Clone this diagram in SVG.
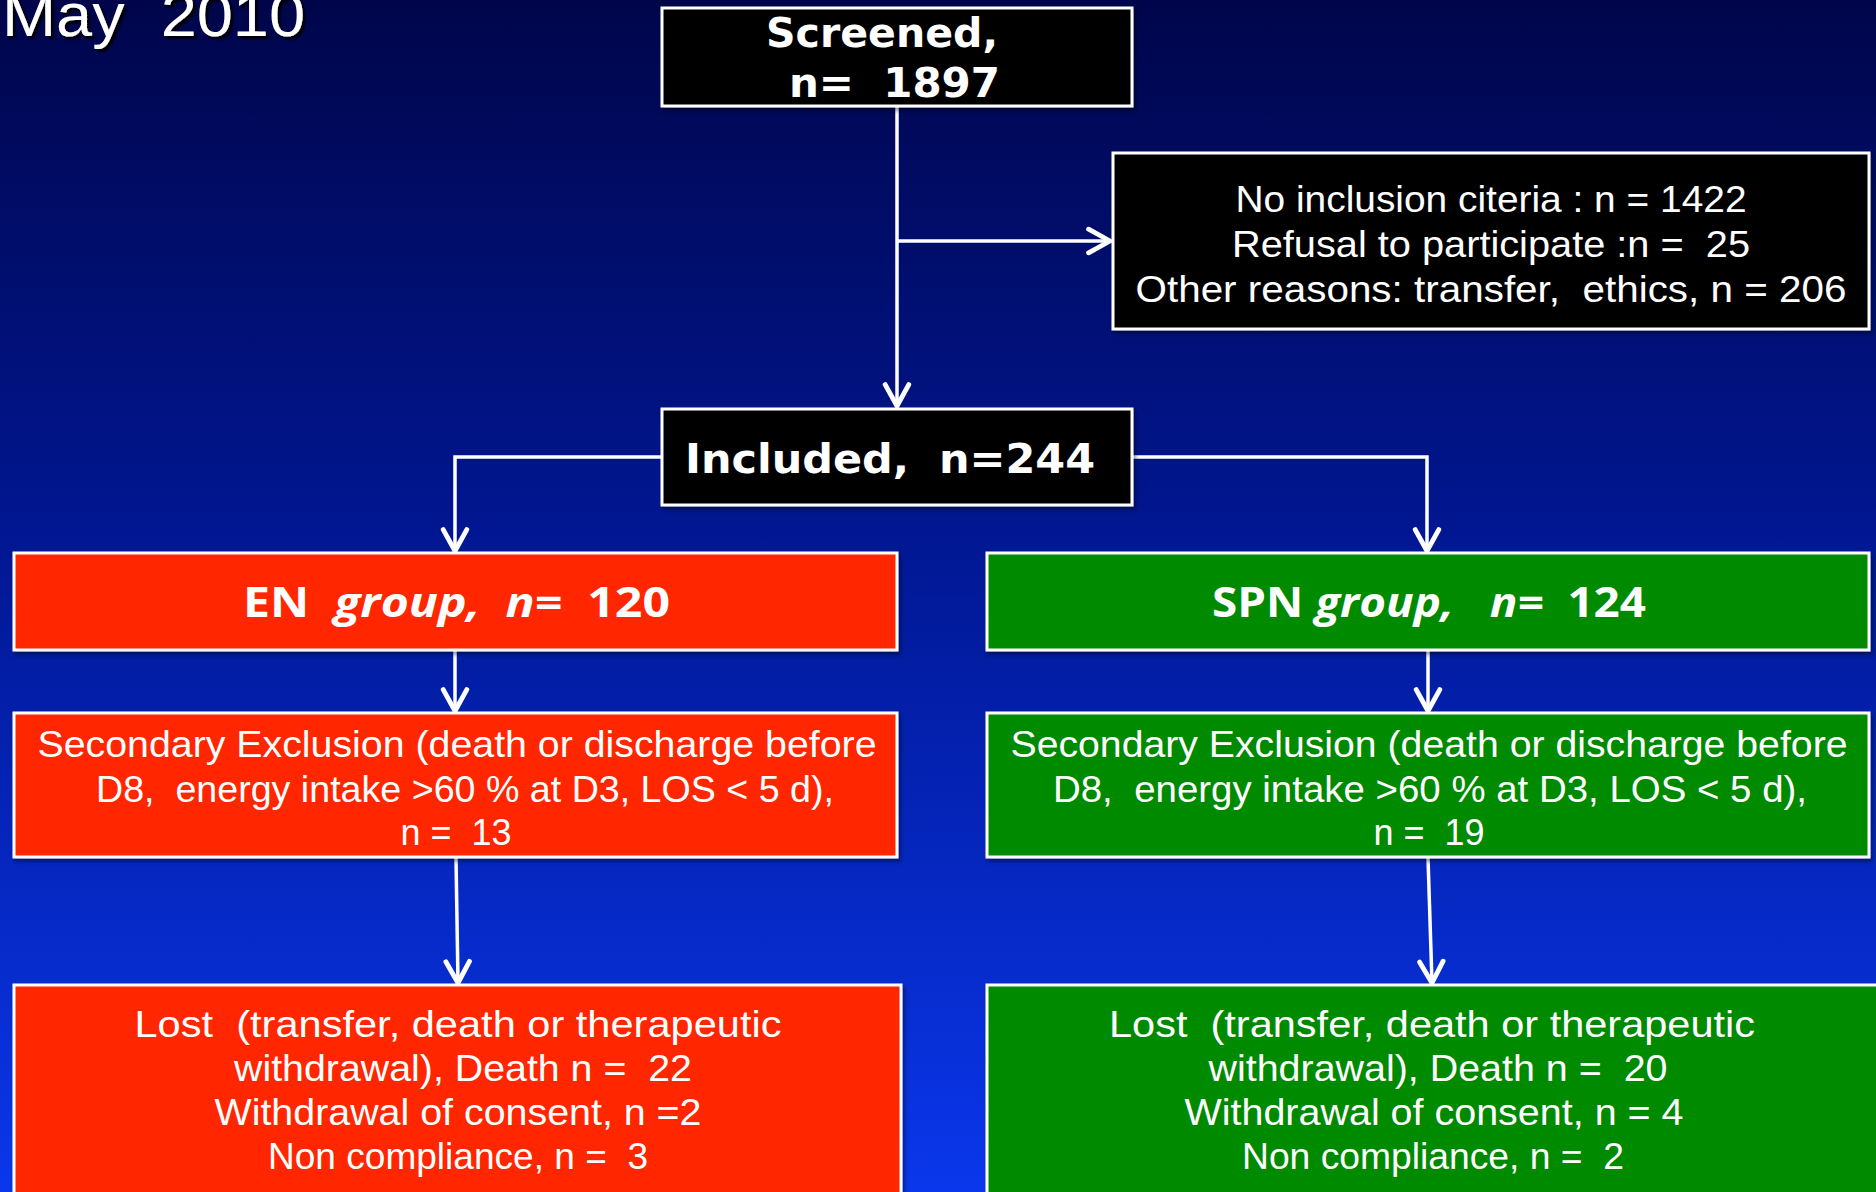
<svg xmlns="http://www.w3.org/2000/svg" width="1876" height="1192" viewBox="0 0 1876 1192" xml:space="preserve">
  <defs>
    <linearGradient id="bg" x1="0" y1="0" x2="0" y2="1">
      <stop offset="0" stop-color="#00054a"/>
      <stop offset="0.45" stop-color="#011792"/>
      <stop offset="1" stop-color="#0a37ec"/>
    </linearGradient>
    <filter id="sh" x="-5%" y="-10%" width="110%" height="130%">
      <feDropShadow dx="2" dy="3" stdDeviation="2" flood-color="#000" flood-opacity="0.45"/>
    </filter>
    <filter id="tsh" x="-5%" y="-30%" width="110%" height="160%">
      <feDropShadow dx="3" dy="3" stdDeviation="1" flood-color="#000" flood-opacity="0.9"/>
    </filter>
    <marker id="ah" markerUnits="userSpaceOnUse" markerWidth="30" markerHeight="30" viewBox="-24 -14 28 28" refX="0" refY="0" orient="auto">
      <path d="M-20,-11 L0,0 L-20,11" fill="none" stroke="#fff" stroke-width="4.5" stroke-linecap="round" stroke-linejoin="round"/>
    </marker>
  </defs>
  <style>
    text { white-space: pre; }
    .box { stroke: #fff; stroke-width: 3; filter: url(#sh); }
    .black { fill: #000; }
    .red { fill: #ff2800; }
    .green { fill: #008a00; }
    .bold { font-family: "DejaVu Sans", Verdana, sans-serif; font-weight: bold; font-size: 40px; fill: #fff; }
    .hand { font-family: "Liberation Sans", Arial, sans-serif; font-size: 37px; fill: #fff; }
    .title { font-family: "Liberation Sans", Arial, sans-serif; font-size: 62px; fill: #fff; }
    .grp { font-family: "Open Sans", "Noto Sans", sans-serif; font-weight: bold; font-size: 42px; fill: #fff; }
    .conn { fill: none; stroke: #fff; stroke-width: 3.5; }
  </style>

  <rect x="0" y="0" width="1876" height="1192" fill="url(#bg)"/>

  <text class="title" x="2" y="36" textLength="303" lengthAdjust="spacingAndGlyphs" filter="url(#tsh)">May  2010</text>

  <g id="connectors">
    <line class="conn" x1="897" y1="106" x2="897" y2="406" marker-end="url(#ah)"/>
    <line class="conn" x1="897" y1="241" x2="1110" y2="241" marker-end="url(#ah)"/>
    <polyline class="conn" points="662,457 455,457 455,551" marker-end="url(#ah)"/>
    <polyline class="conn" points="1132,457 1427,457 1427,551" marker-end="url(#ah)"/>
    <line class="conn" x1="455" y1="650" x2="455" y2="711" marker-end="url(#ah)"/>
    <line class="conn" x1="1428" y1="650" x2="1428" y2="711" marker-end="url(#ah)"/>
    <line class="conn" x1="456" y1="858" x2="458" y2="983" marker-end="url(#ah)"/>
    <line class="conn" x1="1428" y1="858" x2="1432" y2="983" marker-end="url(#ah)"/>
  </g>

  <g id="screened">
    <rect class="box black" x="662" y="8" width="470" height="98"/>
    <text class="bold" x="766" y="47" textLength="232" lengthAdjust="spacingAndGlyphs">Screened,</text>
    <text class="bold" x="789" y="97" textLength="211" lengthAdjust="spacingAndGlyphs">n=  1897</text>
  </g>

  <g id="excluded">
    <rect class="box black" x="1113" y="153" width="756" height="176"/>
    <text class="hand" text-anchor="middle" x="1491" y="212" textLength="511" lengthAdjust="spacingAndGlyphs">No inclusion citeria : n = 1422</text>
    <text class="hand" text-anchor="middle" x="1491" y="257" textLength="518" lengthAdjust="spacingAndGlyphs">Refusal to participate :n =  25</text>
    <text class="hand" text-anchor="middle" x="1491" y="302" textLength="711" lengthAdjust="spacingAndGlyphs">Other reasons: transfer,  ethics, n = 206</text>
  </g>

  <g id="included">
    <rect class="box black" x="662" y="409" width="470" height="96"/>
    <text class="bold" x="685" y="473" textLength="410" lengthAdjust="spacingAndGlyphs">Included,  n=244</text>
  </g>

  <g id="en-group">
    <rect class="box red" x="14" y="553" width="883" height="97"/>
    <text class="grp" x="243" y="617" textLength="427" lengthAdjust="spacingAndGlyphs">EN  <tspan font-style="italic">group,</tspan>  <tspan font-style="italic">n=</tspan>  120</text>
  </g>

  <g id="spn-group">
    <rect class="box green" x="987" y="553" width="882" height="97"/>
    <text class="grp" x="1212" y="617" textLength="434" lengthAdjust="spacingAndGlyphs">SPN <tspan font-style="italic">group,</tspan>   <tspan font-style="italic">n=</tspan>  124</text>
  </g>

  <g id="en-secondary">
    <rect class="box red" x="14" y="713" width="883" height="144"/>
    <text class="hand" text-anchor="middle" x="457" y="757" textLength="839" lengthAdjust="spacingAndGlyphs">Secondary Exclusion (death or discharge before</text>
    <text class="hand" text-anchor="middle" x="465" y="802" textLength="738" lengthAdjust="spacingAndGlyphs">D8,  energy intake &gt;60 % at D3, LOS &lt; 5 d),</text>
    <text class="hand" text-anchor="middle" x="456" y="845" textLength="111" lengthAdjust="spacingAndGlyphs">n =  13</text>
  </g>

  <g id="spn-secondary">
    <rect class="box green" x="987" y="713" width="882" height="144"/>
    <text class="hand" text-anchor="middle" x="1429" y="757" textLength="837" lengthAdjust="spacingAndGlyphs">Secondary Exclusion (death or discharge before</text>
    <text class="hand" text-anchor="middle" x="1430" y="802" textLength="754" lengthAdjust="spacingAndGlyphs">D8,  energy intake &gt;60 % at D3, LOS &lt; 5 d),</text>
    <text class="hand" text-anchor="middle" x="1429" y="845" textLength="111" lengthAdjust="spacingAndGlyphs">n =  19</text>
  </g>

  <g id="en-lost">
    <rect class="box red" x="14" y="985" width="887" height="220"/>
    <text class="hand" text-anchor="middle" x="458" y="1037" textLength="647" lengthAdjust="spacingAndGlyphs">Lost  (transfer, death or therapeutic</text>
    <text class="hand" text-anchor="middle" x="463" y="1081" textLength="458" lengthAdjust="spacingAndGlyphs">withdrawal), Death n =  22</text>
    <text class="hand" text-anchor="middle" x="458" y="1125" textLength="487" lengthAdjust="spacingAndGlyphs">Withdrawal of consent, n =2</text>
    <text class="hand" text-anchor="middle" x="458" y="1169" textLength="380" lengthAdjust="spacingAndGlyphs">Non compliance, n =  3</text>
  </g>

  <g id="spn-lost">
    <rect class="box green" x="987" y="985" width="895" height="220"/>
    <text class="hand" text-anchor="middle" x="1432" y="1037" textLength="646" lengthAdjust="spacingAndGlyphs">Lost  (transfer, death or therapeutic</text>
    <text class="hand" text-anchor="middle" x="1438" y="1081" textLength="459" lengthAdjust="spacingAndGlyphs">withdrawal), Death n =  20</text>
    <text class="hand" text-anchor="middle" x="1434" y="1125" textLength="499" lengthAdjust="spacingAndGlyphs">Withdrawal of consent, n = 4</text>
    <text class="hand" text-anchor="middle" x="1433" y="1169" textLength="382" lengthAdjust="spacingAndGlyphs">Non compliance, n =  2</text>
  </g>
</svg>
